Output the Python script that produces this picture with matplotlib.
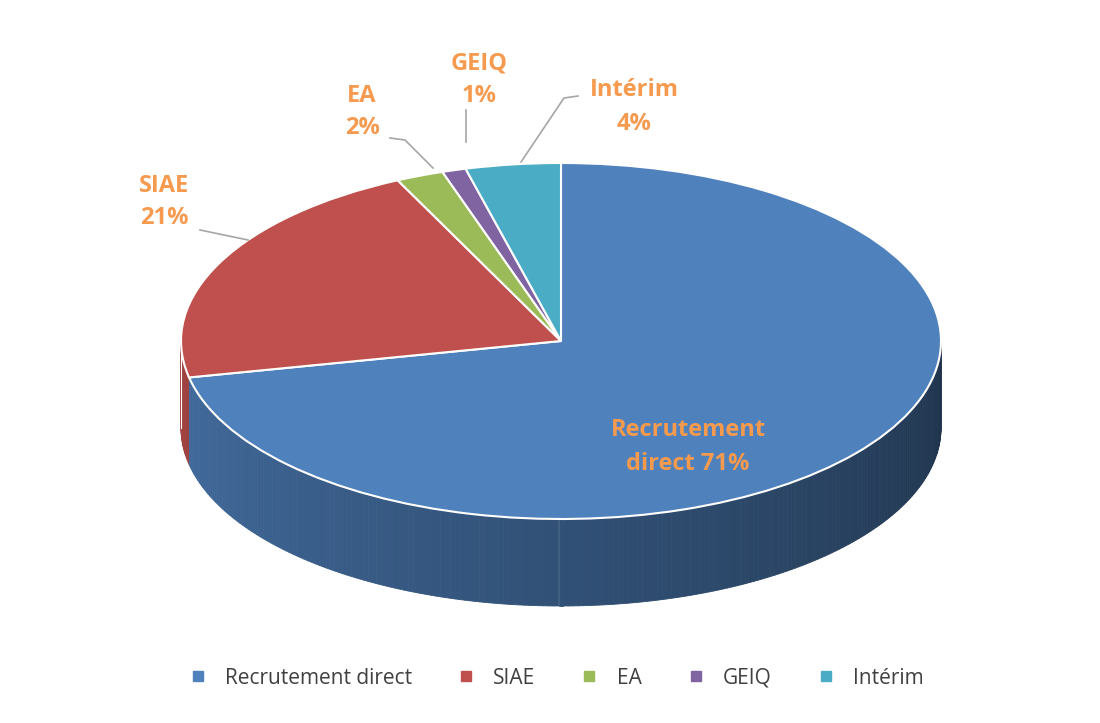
import numpy as np
import matplotlib
matplotlib.use("Agg")
import matplotlib.pyplot as plt
from matplotlib.patches import Polygon
from matplotlib.colors import to_rgb

categories = ["Recrutement direct", "SIAE", "EA", "GEIQ", "Intérim"]
values = [71, 21, 2, 1, 4]
colors = ["#4f81bd", "#c0504d", "#9bbb59", "#8064a2", "#4bacc6"]
label_texts = ["Recrutement\ndirect 71%", "SIAE\n21%", "EA\n2%", "GEIQ\n1%", "Intérim\n4%"]

W, H = 1100, 723
fig = plt.figure(figsize=(W/100, H/100), dpi=100)
cx, cy, rx, ry, depth = 561, 341, 380, 178, 87
ax = fig.add_axes([(cx-rx)/W, 1-(cy+ry)/H, 2*rx/W, 2*ry/H])
ax.set_xlim(-1, 1); ax.set_ylim(-1, 1)
ax.axis("off")
d = depth/ry

# side (depth) drawn first
total = sum(values)
bounds = 90 - np.cumsum([0] + values) / total * 360  # clockwise
def dark(c, f):
    r = np.array(to_rgb(c)); return tuple(r*f)
steps = np.linspace(180, 360, 240)
for a0, a1 in zip(steps[:-1], steps[1:]):
    am = (a0+a1)/2
    # find slice
    for i in range(len(values)):
        lo, hi = bounds[i+1] % 360, bounds[i] % 360
        inside = (lo <= am <= hi) if lo < hi else (am >= lo or am <= hi)
        if inside: break
    t = (am-180)/180
    f = 0.85 - 0.45*t
    c = dark(colors[i], f)
    t0, t1 = np.radians(a0), np.radians(a1)
    pts = [(np.cos(t0), np.sin(t0)), (np.cos(t1), np.sin(t1)),
           (np.cos(t1), np.sin(t1)-d), (np.cos(t0), np.sin(t0)-d)]
    ax.add_patch(Polygon(pts, closed=True, facecolor=c, edgecolor=c, lw=0.6, clip_on=False))
ax.plot([-1, -1], [0, -d], color="white", lw=0.8, clip_on=False)

ax.pie(values, colors=colors, startangle=90, counterclock=False, radius=1,
       wedgeprops=dict(edgecolor="white", linewidth=1.5))
ax.set_aspect("auto")
ax.set_xlim(-1, 1); ax.set_ylim(-1, 1)

# overlay in pixel coords
ov = fig.add_axes([0, 0, 1, 1]); ov.set_xlim(0, W); ov.set_ylim(H, 0); ov.axis("off")
orange = "#f59a4e"
fp = dict(color=orange, fontsize=17, fontweight="bold", ha="center", va="center",
          family="Open Sans", linespacing=1.5)
pos = [(688, 447), (164, 202), (362, 112), (479, 80), (634, 107)]
for (x, y), t in zip(pos, label_texts):
    ov.text(x, y, t, **fp)
lc = "#a6a6a6"
for xs, ys in [([200, 248], [230, 240]), ([390, 405, 433], [138, 140, 168]),
               ([466, 466], [110, 142]), ([578, 564, 521], [96, 98, 162])]:
    ov.plot(xs, ys, color=lc, lw=1.2)

handles = [plt.Line2D([], [], marker="s", ls="", color=c, markersize=7) for c in colors]
fig.legend(handles, categories, loc="center", bbox_to_anchor=(0.5, 1-678/H), ncol=5,
           frameon=False, fontsize=15, handletextpad=0.3, columnspacing=1.6,
           prop=dict(family="Open Sans", size=15), labelcolor="#404040")
fig.savefig("out.png", dpi=100, facecolor="white")
